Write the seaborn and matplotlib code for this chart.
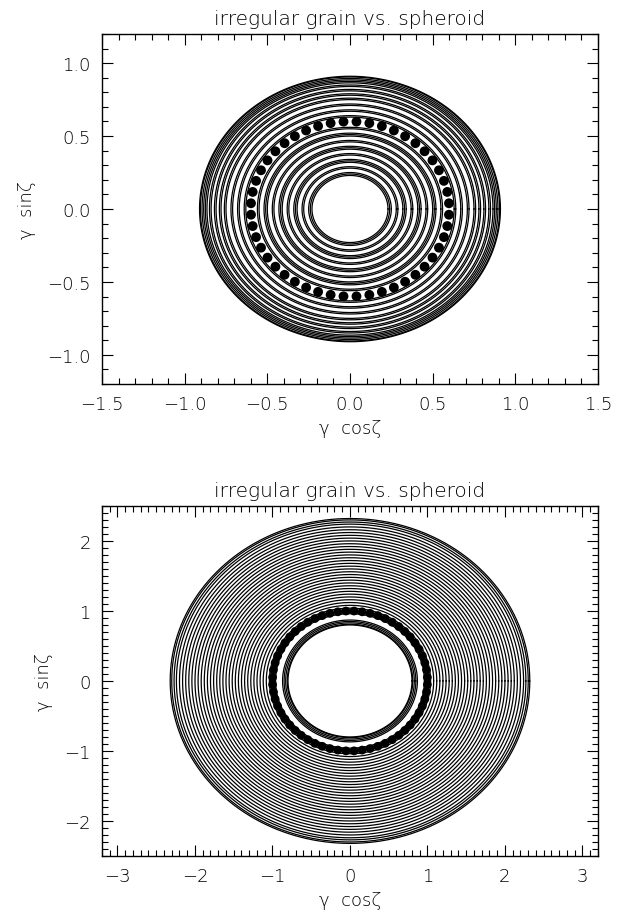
import numpy as np
import pandas as pd
import matplotlib
matplotlib.use("Agg")
import matplotlib.pyplot as plt
import seaborn as sns
from matplotlib.ticker import MultipleLocator

# ---- data ----
# ring radii |gamma| for the upper panel
top_radii = [0.23, 0.24, 0.25, 0.28, 0.29, 0.32, 0.33, 0.34, 0.37, 0.38,
             0.41, 0.42, 0.43, 0.46, 0.47, 0.50, 0.51, 0.52, 0.55, 0.56,
             0.63, 0.64, 0.67, 0.68, 0.71, 0.72, 0.75, 0.76, 0.78, 0.79,
             0.81, 0.82, 0.84, 0.85, 0.865, 0.875, 0.885, 0.895, 0.905, 0.91]
top_dot_radius = 0.60
top_dot_count = 48

# ring radii |gamma| for the lower panel
bot_radii = [0.80, 0.81, 0.83, 0.85, 0.87, 0.96, 0.98,
             1.04, 1.08, 1.12, 1.16, 1.20, 1.24, 1.28, 1.32, 1.36, 1.40,
             1.44, 1.48, 1.52, 1.56, 1.60, 1.64, 1.68, 1.72, 1.76, 1.80,
             1.84, 1.88, 1.92, 1.96, 2.00, 2.04, 2.08, 2.12, 2.16, 2.20,
             2.24, 2.27, 2.30, 2.32]
bot_dot_radius = 1.00
bot_dot_count = 60

title_text = "irregular grain vs. spheroid"
xlabel_text = "\u03b3  cos\u03b6"
ylabel_text = "\u03b3  sin\u03b6"

top_xticks = [-1.5, -1.0, -0.5, 0.0, 0.5, 1.0, 1.5]
top_yticks = [-1.0, -0.5, 0.0, 0.5, 1.0]
bot_xticks = [-3, -2, -1, 0, 1, 2, 3]
bot_yticks = [-2, -1, 0, 1, 2]


def ring_frame(radii):
    zeta = np.linspace(0, 2 * np.pi, 361)
    rows = []
    for i, r in enumerate(radii):
        rows.append(pd.DataFrame({"x": r * np.cos(zeta), "y": r * np.sin(zeta), "ring": i}))
    return pd.concat(rows, ignore_index=True)


def dot_frame(r, n):
    zeta = np.arange(n) * 2 * np.pi / n + np.pi / n
    return pd.DataFrame({"x": r * np.cos(zeta), "y": r * np.sin(zeta)})


sns.set_style("white")
plt.rcParams["font.family"] = ["DejaVu Sans"]
plt.rcParams["font.weight"] = "light"
plt.rcParams["text.color"] = "black"
plt.rcParams["axes.labelcolor"] = "black"
plt.rcParams["xtick.color"] = "black"
plt.rcParams["ytick.color"] = "black"
plt.rcParams["axes.titleweight"] = "light"
plt.rcParams["axes.labelweight"] = "light"
plt.rcParams["axes.linewidth"] = 1.0

fig = plt.figure(figsize=(6.28, 9.2), dpi=100)
ax1 = fig.add_axes([0.1624, 0.5815, 0.7898, 0.3805])
ax2 = fig.add_axes([0.1624, 0.0685, 0.7898, 0.3805])


def draw(ax, radii, dr, dn, xlim, ylim, xt, yt, xfmt, yfmt, ms):
    sns.lineplot(data=ring_frame(radii), x="x", y="y", units="ring", estimator=None,
                 sort=False, color="black", lw=0.9, ax=ax, legend=False)
    sns.scatterplot(data=dot_frame(dr, dn), x="x", y="y", color="black", s=ms,
                    edgecolor="none", ax=ax, legend=False, zorder=3)
    ax.set_xlim(*xlim)
    ax.set_ylim(*ylim)
    ax.set_xticks(xt)
    ax.set_yticks(yt)
    ax.set_xticklabels([xfmt.format(v).replace("-", "\u2212") for v in xt])
    ax.set_yticklabels([yfmt.format(v).replace("-", "\u2212") for v in yt])
    ax.xaxis.set_minor_locator(MultipleLocator(0.1))
    ax.yaxis.set_minor_locator(MultipleLocator(0.1))
    ax.tick_params(which="both", direction="in", top=True, right=True,
                   bottom=True, left=True, color="black", width=0.8,
                   labelsize=13, labelcolor="black")
    ax.tick_params(which="major", length=8, pad=8)
    ax.tick_params(which="minor", length=4)
    ax.set_xlabel(xlabel_text, fontsize=13, labelpad=4, color="black")
    ax.set_ylabel(ylabel_text, fontsize=13, labelpad=8, color="black")
    ax.set_title(title_text, fontsize=14.5, pad=7, color="black")
    for s in ax.spines.values():
        s.set_color("black")
        s.set_linewidth(1.0)


draw(ax1, top_radii, top_dot_radius, top_dot_count, (-1.5, 1.5), (-1.2, 1.2),
     top_xticks, top_yticks, "{:.1f}", "{:.1f}", 50)
draw(ax2, bot_radii, bot_dot_radius, bot_dot_count, (-3.2, 3.2), (-2.5, 2.5),
     bot_xticks, bot_yticks, "{:d}", "{:d}", 40)

fig.savefig("out.png", dpi=100)
